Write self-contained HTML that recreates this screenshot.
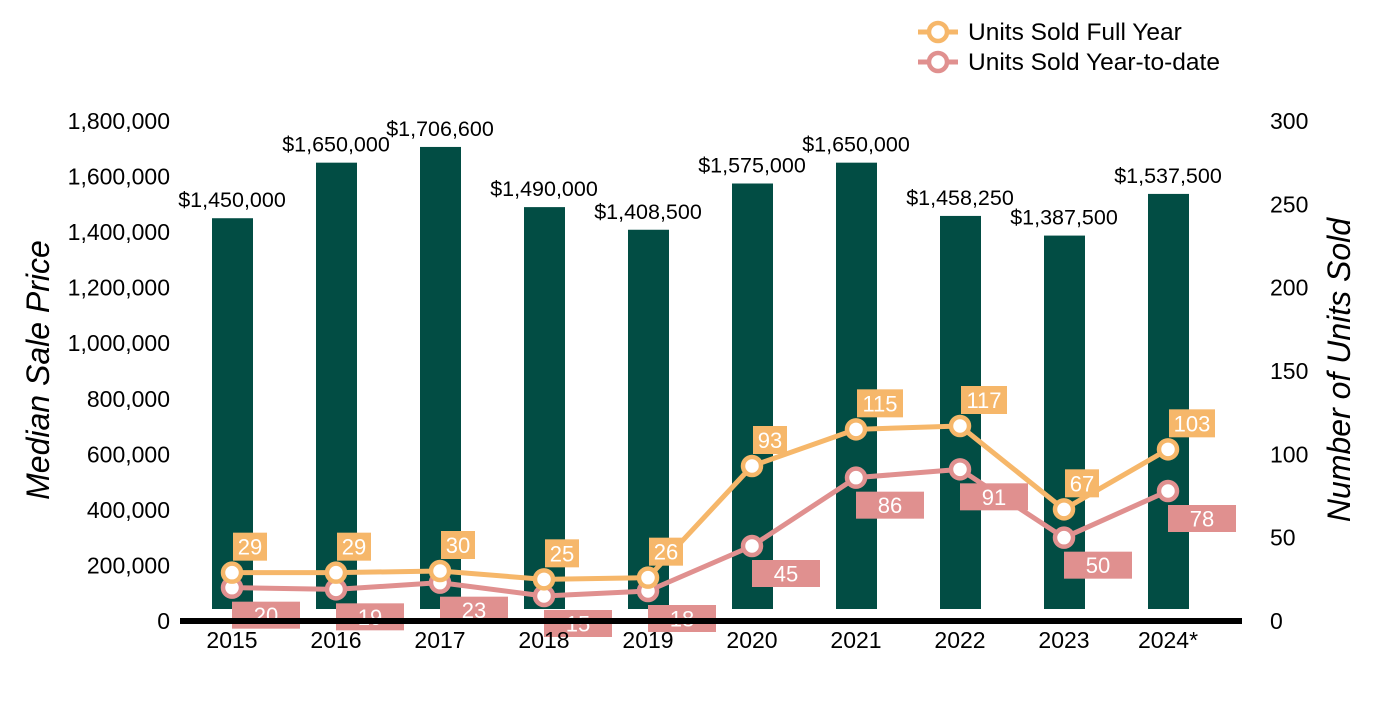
<!DOCTYPE html>
<html><head><meta charset="utf-8"><style>
body{margin:0;background:#fff}
svg text{font-family:"Liberation Sans",Arial,sans-serif}
</style></head><body>
<svg id="chart" width="1400" height="700" xmlns="http://www.w3.org/2000/svg">
<g id="bars"></g><g id="lines"></g><g id="axes"></g>
</svg>
<script>
const years=["2015","2016","2017","2018","2019","2020","2021","2022","2023","2024*"];
const prices=[1450000,1650000,1706600,1490000,1408500,1575000,1650000,1458250,1387500,1537500];
const priceLabels=["$1,450,000","$1,650,000","$1,706,600","$1,490,000","$1,408,500","$1,575,000","$1,650,000","$1,458,250","$1,387,500","$1,537,500"];
const fullYear=[29,29,30,25,26,93,115,117,67,103];
const ytd=[20,19,23,15,18,45,86,91,50,78];
const leftTicks=[0,200000,400000,600000,800000,1000000,1200000,1400000,1600000,1800000];
const rightTicks=[0,50,100,150,200,250,300];

const NS="http://www.w3.org/2000/svg";
const y0=621,yTop=121;
const yL=v=>y0-(v/1800000)*(y0-yTop);
const yR=v=>y0-(v/300)*(y0-yTop);
const xC=i=>232+i*104;
function mk(tag,attrs,parent,txt){const e=document.createElementNS(NS,tag);for(const k in attrs)e.setAttribute(k,attrs[k]);if(txt!==undefined)e.textContent=txt;parent.appendChild(e);return e;}
const bars=document.getElementById('bars'),lines=document.getElementById('lines'),axes=document.getElementById('axes');

prices.forEach((p,i)=>{
  const r=mk('rect',{x:xC(i)-20,y:yL(p),width:41,height:609-yL(p),fill:'#024d44'},bars);
  
  
  const t=mk('text',{x:xC(i),y:yL(p)-11,'text-anchor':'middle','font-size':21.5,fill:'#000'},bars,priceLabels[i]);
  
  
});

function series(vals,color,name){
  const pts=vals.map((v,i)=>xC(i)+','+yR(v)).join(' ');
  const pl=mk('polyline',{points:pts,fill:'none',stroke:color,'stroke-width':5,'stroke-linejoin':'round'},lines);
  
  
  vals.forEach((v,i)=>{
    const c=mk('circle',{cx:xC(i),cy:yR(v),r:9,fill:'#fff',stroke:color,'stroke-width':4.5},lines);
    
    
  });
}
function labels(vals,color,name,below){
  vals.forEach((v,i)=>{
    const x=xC(i),y=yR(v);
    const s=String(v);
    let bx,by,bw,bh;
    if(below){bx=x;by=y+14;bw=68;bh=27;}
    else{bw=s.length*12+10;bx=x+1;by=y-40;bh=28;}
    const g=mk('g',{},lines);
    
    
    mk('rect',{x:bx,y:by,width:bw,height:bh,fill:color},g);
    mk('text',{x:bx+bw/2,y:by+bh/2+8,'text-anchor':'middle','font-size':22,fill:'#fff'},g,s);
  });
}
series(ytd,'#e0908f','ytd');
series(fullYear,'#f6b76a','full-year');
labels(ytd,'#e0908f','ytd',true);
labels(fullYear,'#f6b76a','full-year',false);

const ax=mk('line',{x1:180,y1:621,x2:1242,y2:621,stroke:'#000','stroke-width':6},axes);


years.forEach((y,i)=>{
  const t=mk('text',{x:xC(i),y:648,'text-anchor':'middle','font-size':23,fill:'#000'},axes,y);
  
  
});
leftTicks.forEach(v=>{
  const t=mk('text',{x:170,y:yL(v)+8,'text-anchor':'end','font-size':23,fill:'#000'},axes,v.toLocaleString('en-US'));
  
  
});
rightTicks.forEach(v=>{
  const t=mk('text',{x:1270,y:yR(v)+8,'text-anchor':'start','font-size':23,fill:'#000'},axes,String(v));
  
  
});
const lt=mk('text',{x:0,y:0,transform:'translate(49,370) rotate(-90)','text-anchor':'middle','font-size':32,'font-style':'italic',fill:'#000'},axes,'Median Sale Price');


const rt=mk('text',{x:0,y:0,transform:'translate(1350,370) rotate(-90)','text-anchor':'middle','font-size':32,'font-style':'italic',fill:'#000'},axes,'Number of Units Sold');



[['Units Sold Full Year','#f6b76a',32],['Units Sold Year-to-date','#e0908f',62]].forEach(([lab,col,y],k)=>{
  const g=mk('g',{},axes);
  
  
  mk('line',{x1:918,y1:y,x2:958,y2:y,stroke:col,'stroke-width':5},g);
  mk('circle',{cx:938,cy:y,r:9,fill:'#fff',stroke:col,'stroke-width':4.5},g);
  mk('text',{x:968,y:y+8,'font-size':24.5,fill:'#000'},g,lab);
});
</script>
</body></html>
